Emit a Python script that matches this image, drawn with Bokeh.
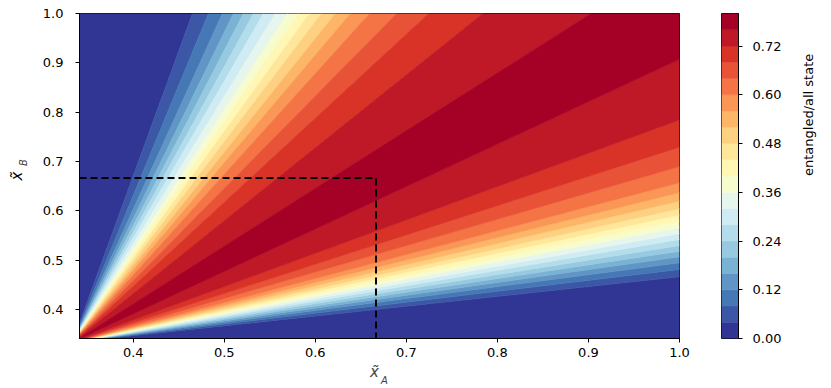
from bokeh.plotting import figure
from bokeh.layouts import row
from bokeh.models import Range1d, FixedTicker, NumeralTickFormatter, Label
from bokeh.embed import file_html
from bokeh.resources import INLINE

# ---------------- data ----------------
levels = [0.00, 0.04, 0.08, 0.12, 0.16, 0.20, 0.24, 0.28, 0.32, 0.36, 0.40,
          0.44, 0.48, 0.52, 0.56, 0.60, 0.64, 0.68, 0.72, 0.76, 0.80]
# x where the contour lines 0.04 ... 0.76 (upper side) meet the top edge y = 1
upper_exit_x = [0.4650, 0.4826, 0.4980, 0.5101, 0.5211, 0.5321, 0.5431, 0.5563,
                0.5695, 0.5816, 0.5937, 0.6069, 0.6223, 0.6388, 0.6597, 0.6894,
                0.7246, 0.7840, 0.9028]
# y where the contour lines 0.04 ... 0.76 (lower side) meet the right edge x = 1
lower_exit_y = [0.4661, 0.4809, 0.4944, 0.5066, 0.5179, 0.5294, 0.5416, 0.5537,
                0.5660, 0.5790, 0.5915, 0.6045, 0.6200, 0.6370, 0.6570, 0.6898,
                0.7290, 0.7842, 0.9070]
ray_origin_x = 1 / 3
ray_origin_y = 1 / 3
axis_min = 0.341
axis_max = 1.0
x_ticks = [0.4, 0.5, 0.6, 0.7, 0.8, 0.9, 1.0]
y_ticks = [0.4, 0.5, 0.6, 0.7, 0.8, 0.9, 1.0]
cbar_ticks = [0.00, 0.12, 0.24, 0.36, 0.48, 0.60, 0.72]
guide_x = [axis_min, 2 / 3, 2 / 3]
guide_y = [2 / 3, 2 / 3, axis_min]

# ---------------- colormap (RdYlBu reversed) ----------------
RDYLBU_R = ["#313695", "#4575b4", "#74add1", "#abd9e9", "#e0f3f8", "#ffffbf",
            "#fee090", "#fdae61", "#f46d43", "#d73027", "#a50026"]


def _rgb(h):
    return tuple(int(h[i:i + 2], 16) for i in (1, 3, 5))


def cmap(t):
    pos = t * (len(RDYLBU_R) - 1)
    i = min(int(pos), len(RDYLBU_R) - 2)
    f = pos - i
    a, b = _rgb(RDYLBU_R[i]), _rgb(RDYLBU_R[i + 1])
    return "#%02x%02x%02x" % tuple(round(a[j] + (b[j] - a[j]) * f) for j in range(3))


nb = len(levels) - 1
palette = [cmap(k / (nb - 1)) for k in range(nb)]

# ---------------- band polygons ----------------
xs, ys, cols = [], [], []
ox, oy = ray_origin_x, ray_origin_y
top_pts = [ox] + upper_exit_x
for k in range(nb - 1):
    xs.append([ox, top_pts[k], top_pts[k + 1]])
    ys.append([oy, axis_max, axis_max])
    cols.append(palette[k])
right_pts = [oy] + lower_exit_y
for k in range(nb - 1):
    xs.append([ox, axis_max, axis_max])
    ys.append([oy, right_pts[k], right_pts[k + 1]])
    cols.append(palette[k])
xs.append([ox, upper_exit_x[-1], axis_max, axis_max])
ys.append([oy, axis_max, axis_max, lower_exit_y[-1]])
cols.append(palette[nb - 1])

FONT = "DejaVu Sans"
H = 388

p = figure(width=706, height=H, output_backend="svg", toolbar_location=None,
           x_range=Range1d(axis_min, axis_max), y_range=Range1d(axis_min, axis_max),
           min_border_left=79, min_border_right=27, min_border_top=13,
           min_border_bottom=H - 340)
p.patches(xs, ys, fill_color=cols, line_color=cols, line_width=0.6)
p.line(guide_x, guide_y, line_color="black", line_width=2, line_dash="7 4")

p.grid.visible = False
p.outline_line_color = "black"
p.outline_line_width = 1
p.background_fill_color = "white"
p.border_fill_color = "white"
for ax, ticks, standoff in ((p.xaxis[0], x_ticks, 5), (p.yaxis[0], y_ticks, 12)):
    ax.ticker = FixedTicker(ticks=ticks)
    ax.formatter = NumeralTickFormatter(format="0.0")
    ax.major_tick_out = 4
    ax.major_tick_in = 0
    ax.minor_tick_line_color = None
    ax.axis_line_color = "black"
    ax.major_tick_line_color = "black"
    ax.major_label_text_font = FONT
    ax.major_label_text_font_size = "13px"
    ax.major_label_text_color = "black"
    ax.major_label_standoff = standoff

# y axis label: x tilde as the axis label, subscript B as a label
yax = p.yaxis[0]
yax.axis_label = "x\u0303"
yax.axis_label_text_font = FONT
yax.axis_label_text_font_style = "italic"
yax.axis_label_text_font_size = "15px"
yax.axis_label_text_color = "black"
yax.axis_label_standoff = 14
# (placed from the right-hand panel, which has free room, and offset to the left edge)
p.add_layout(Label(x=-656, y=176, x_units="screen", y_units="screen", text="B",
                   text_font=FONT, text_font_style="italic", text_font_size="10px",
                   text_align="center", text_baseline="middle", angle=1.5708), "right")

# x axis label (x tilde with subscript A) placed in the bottom panels
p.add_layout(Label(x=295, y=6, x_units="screen", y_units="screen", text="x\u0303",
                   text_font=FONT, text_font_style="italic", text_font_size="15px",
                   text_align="center", text_baseline="middle"), "below")
p.add_layout(Label(x=305, y=8, x_units="screen", y_units="screen", text="A",
                   text_font=FONT, text_font_style="italic", text_font_size="10px",
                   text_align="center", text_baseline="middle"), "below")

# ---------------- colour bar ----------------
cb = figure(width=120, height=H, output_backend="svg", toolbar_location=None,
            x_range=Range1d(0, 1), y_range=Range1d(levels[0], levels[-1]),
            x_axis_location=None, y_axis_location="right",
            min_border_left=15, min_border_right=82, min_border_top=13,
            min_border_bottom=H - 340)
cb.quad(left=0, right=1, bottom=levels[:-1], top=levels[1:], fill_color=palette,
        line_color=palette, line_width=0.5)
cb.grid.visible = False
cb.outline_line_color = "black"
cb.outline_line_width = 1
cb.border_fill_color = "white"
cax = cb.yaxis[0]
cax.ticker = FixedTicker(ticks=cbar_ticks)
cax.formatter = NumeralTickFormatter(format="0.00")
cax.major_tick_out = 4
cax.major_tick_in = 0
cax.minor_tick_line_color = None
cax.axis_line_color = "black"
cax.major_label_text_font = FONT
cax.major_label_text_font_size = "13px"
cax.major_label_text_color = "black"
cax.major_label_standoff = 10
cax.axis_label = "entangled/all state"
cax.axis_label_text_font = FONT
cax.axis_label_text_font_style = "normal"
cax.axis_label_text_font_size = "13px"
cax.axis_label_text_color = "black"
cax.axis_label_standoff = 24
cax.axis_label_orientation = 1.5708

layout = row(p, cb)
open("out.html", "w").write(file_html(layout, INLINE))
